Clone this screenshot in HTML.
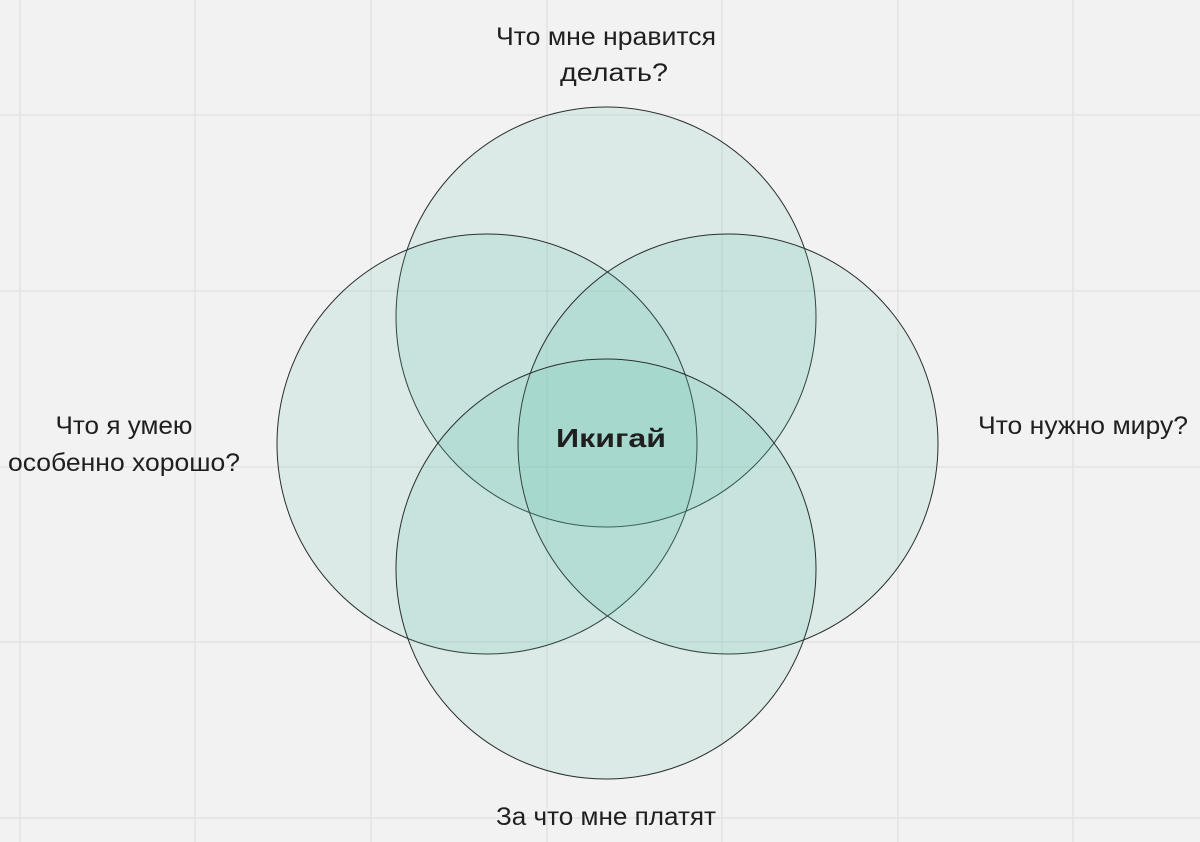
<!DOCTYPE html>
<html><head><meta charset="utf-8"><style>
html,body{margin:0;padding:0;background:#f2f2f2;}
svg{display:block;}
text{font-family:"Liberation Sans","DejaVu Sans",sans-serif;fill:#1f1f1f;}
</style></head><body>
<svg width="1200" height="842" viewBox="0 0 1200 842" xmlns="http://www.w3.org/2000/svg">
<rect width="1200" height="842" fill="#f2f2f2"/>
<g stroke="#e3e3e3" stroke-width="1.5">
<line x1="20" y1="0" x2="20" y2="842"/>
<line x1="195" y1="0" x2="195" y2="842"/>
<line x1="371" y1="0" x2="371" y2="842"/>
<line x1="547" y1="0" x2="547" y2="842"/>
<line x1="722" y1="0" x2="722" y2="842"/>
<line x1="898" y1="0" x2="898" y2="842"/>
<line x1="1073" y1="0" x2="1073" y2="842"/>
<line x1="0" y1="115" x2="1200" y2="115"/>
<line x1="0" y1="291" x2="1200" y2="291"/>
<line x1="0" y1="467" x2="1200" y2="467"/>
<line x1="0" y1="642" x2="1200" y2="642"/>
<line x1="0" y1="818" x2="1200" y2="818"/>
</g>
<g fill="rgb(85,190,165)" fill-opacity="0.15" stroke="#2a2f2d" stroke-width="1">
<circle cx="606" cy="317" r="210"/>
<circle cx="487" cy="444" r="210"/>
<circle cx="728" cy="444" r="210"/>
<circle cx="606" cy="569" r="210"/>
</g>
<g font-size="25" text-anchor="middle" lengthAdjust="spacingAndGlyphs">
<text x="606" y="45" textLength="220" lengthAdjust="spacingAndGlyphs">Что мне нравится</text>
<text x="614" y="81" textLength="108" lengthAdjust="spacingAndGlyphs">делать?</text>
<text x="124" y="434" textLength="137" lengthAdjust="spacingAndGlyphs">Что я умею</text>
<text x="124" y="471" textLength="232" lengthAdjust="spacingAndGlyphs">особенно хорошо?</text>
<text x="1083" y="434" textLength="210" lengthAdjust="spacingAndGlyphs">Что нужно миру?</text>
<text x="606" y="825" textLength="220" lengthAdjust="spacingAndGlyphs">За что мне платят</text>
<text x="611" y="447" font-weight="bold" font-size="26" textLength="110" lengthAdjust="spacingAndGlyphs">Икигай</text>
</g>
</svg>
</body></html>
